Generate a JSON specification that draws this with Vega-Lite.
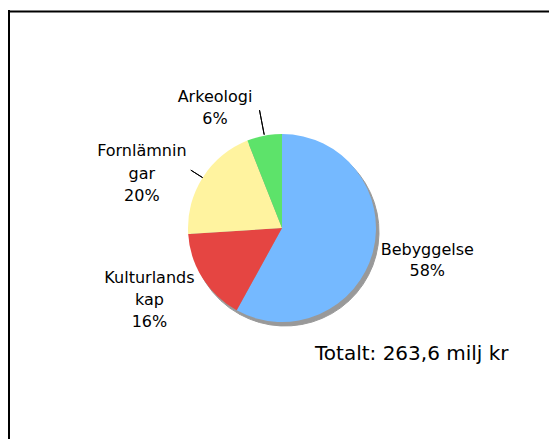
{
  "$schema": "https://vega.github.io/schema/vega-lite/v6.json",
  "width": 540,
  "height": 428,
  "autosize": {"type": "none"},
  "padding": {"left": 9, "top": 11, "right": 0, "bottom": 0},
  "background": "white",
  "view": {"stroke": null},
  "config": {
    "font": "DejaVu Sans"
  },
  "title": {
    "text": "Totalt: 263,6 milj kr",
    "orient": "bottom",
    "anchor": "start",
    "frame": "group",
    "offset": -80,
    "dx": 306,
    "baseline": "alphabetic",
    "fontSize": 20,
    "fontWeight": "normal",
    "font": "DejaVu Sans",
    "color": "black"
  },
  "data": {
    "values": [
      {"kategori": "Bebyggelse", "andel": 58, "ordning": 1, "etikett": "Bebyggelse\n58%"},
      {"kategori": "Kulturlandskap", "andel": 16, "ordning": 2, "etikett": "Kulturlands\nkap\n16%"},
      {"kategori": "Fornlämningar", "andel": 20, "ordning": 3, "etikett": "Fornlämnin\ngar\n20%"},
      {"kategori": "Arkeologi", "andel": 6, "ordning": 4, "etikett": "Arkeologi\n6%"}
    ]
  },
  "layer": [
    {
      "mark": {"type": "rule", "color": "black", "strokeWidth": 2, "strokeCap": "square"},
      "encoding": {
        "x": {"datum": 0, "type": "quantitative", "scale": {"domain": [0, 1]}, "axis": {"orient": "top", "domainColor": "black", "domainWidth": 2, "domainCap": "square", "ticks": false, "labels": false, "grid": false, "title": null}}
      }
    },
    {
      "mark": {"type": "arc", "radius": 94, "fill": "#999999", "stroke": "#999999", "strokeWidth": 1, "x": {"expr": "width/2+6"}, "y": {"expr": "height/2+7"}},
      "encoding": {
        "theta": {"field": "andel", "type": "quantitative", "stack": true},
        "order": {"field": "ordning", "type": "quantitative"}
      }
    },
    {
      "mark": {"type": "arc", "radius": 94, "x": {"expr": "width/2+3"}, "y": {"expr": "height/2+3"}},
      "encoding": {
        "theta": {"field": "andel", "type": "quantitative", "stack": true},
        "order": {"field": "ordning", "type": "quantitative"},
        "color": {
          "field": "kategori",
          "type": "nominal",
          "scale": {
            "domain": ["Bebyggelse", "Kulturlandskap", "Fornlämningar", "Arkeologi"],
            "range": ["#75b9ff", "#e54542", "#fff39f", "#5de36a"]
          },
          "legend": null
        }
      }
    },
    {
      "mark": {"type": "arc", "radius": 120, "radius2": 95, "padAngle": 3, "fillOpacity": 0, "stroke": "black", "strokeWidth": 1, "x": {"expr": "width/2+3"}, "y": {"expr": "height/2+3"}},
      "encoding": {
        "theta": {"field": "andel", "type": "quantitative", "stack": true},
        "order": {"field": "ordning", "type": "quantitative"},
        "strokeOpacity": {"condition": {"test": "datum.kategori === 'Arkeologi'", "value": 1}, "value": 0}
      }
    },
    {
      "mark": {"type": "arc", "radius": 108, "radius2": 94, "padAngle": 3, "fillOpacity": 0, "stroke": "black", "strokeWidth": 1, "x": {"expr": "width/2+3"}, "y": {"expr": "height/2+3"}},
      "encoding": {
        "theta": {"field": "andel", "type": "quantitative", "stack": true},
        "order": {"field": "ordning", "type": "quantitative"},
        "strokeOpacity": {"condition": {"test": "datum.kategori === 'Fornlämningar'", "value": 1}, "value": 0}
      }
    },
    {
      "mark": {"type": "text", "radius": 150, "dy": -10, "fontSize": 16, "lineBreak": "\n", "lineHeight": 21, "baseline": "alphabetic", "align": "center", "color": "black", "x": {"expr": "width/2+3"}, "y": {"expr": "height/2+3"}},
      "encoding": {
        "theta": {"field": "andel", "type": "quantitative", "stack": true},
        "order": {"field": "ordning", "type": "quantitative"},
        "text": {"condition": {"test": "datum.kategori === 'Bebyggelse'", "field": "etikett"}, "value": ""}
      }
    },
    {
      "mark": {"type": "text", "radius": 157, "dy": -29, "fontSize": 16, "lineBreak": "\n", "lineHeight": 22, "baseline": "alphabetic", "align": "center", "color": "black", "x": {"expr": "width/2+3"}, "y": {"expr": "height/2+3"}},
      "encoding": {
        "theta": {"field": "andel", "type": "quantitative", "stack": true},
        "order": {"field": "ordning", "type": "quantitative"},
        "text": {"condition": {"test": "datum.kategori === 'Kulturlandskap'", "field": "etikett"}, "value": ""}
      }
    },
    {
      "mark": {"type": "text", "radius": 166, "dy": 17, "fontSize": 16, "lineBreak": "\n", "lineHeight": 22.5, "baseline": "alphabetic", "align": "center", "color": "black", "x": {"expr": "width/2+3"}, "y": {"expr": "height/2+3"}},
      "encoding": {
        "theta": {"field": "andel", "type": "quantitative", "stack": true},
        "order": {"field": "ordning", "type": "quantitative"},
        "text": {"condition": {"test": "datum.kategori === 'Fornlämningar'", "field": "etikett"}, "value": ""}
      }
    },
    {
      "mark": {"type": "text", "radius": 128, "dx": -43, "dy": 0, "fontSize": 16, "lineBreak": "\n", "lineHeight": 21.6, "baseline": "alphabetic", "align": "center", "color": "black", "x": {"expr": "width/2+3"}, "y": {"expr": "height/2+3"}},
      "encoding": {
        "theta": {"field": "andel", "type": "quantitative", "stack": true},
        "order": {"field": "ordning", "type": "quantitative"},
        "text": {"condition": {"test": "datum.kategori === 'Arkeologi'", "field": "etikett"}, "value": ""}
      }
    }
  ]
}
